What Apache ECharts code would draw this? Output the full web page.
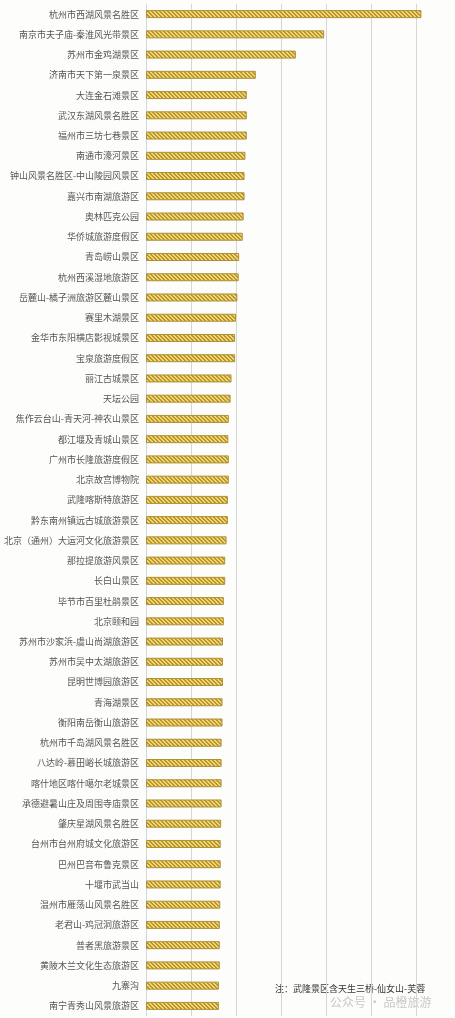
<!DOCTYPE html>
<html>
<head>
<meta charset="utf-8">
<script src="https://cdn.jsdelivr.net/npm/echarts@6/dist/echarts.min.js"></script>
<style>
html,body{margin:0;padding:0;background:#fdfdfc;overflow:hidden;}
#chart{width:455px;height:1018px;}
</style>
</head>
<body>
<div id="chart"></div>
<script>
const categories = [
  "杭州市西湖风景名胜区","南京市夫子庙-秦淮风光带景区","苏州市金鸡湖景区","济南市天下第一泉景区","大连金石滩景区",
  "武汉东湖风景名胜区","福州市三坊七巷景区","南通市濠河景区","钟山风景名胜区-中山陵园风景区","嘉兴市南湖旅游区",
  "奥林匹克公园","华侨城旅游度假区","青岛崂山景区","杭州西溪湿地旅游区","岳麓山-橘子洲旅游区麓山景区",
  "赛里木湖景区","金华市东阳横店影视城景区","宝泉旅游度假区","丽江古城景区","天坛公园",
  "焦作云台山-青天河-神农山景区","都江堰及青城山景区","广州市长隆旅游度假区","北京故宫博物院","武隆喀斯特旅游区",
  "黔东南州镇远古城旅游景区","北京（通州）大运河文化旅游景区","那拉提旅游风景区","长白山景区","毕节市百里杜鹃景区",
  "北京颐和园","苏州市沙家浜-虞山尚湖旅游区","苏州市吴中太湖旅游区","昆明世博园旅游区","青海湖景区",
  "衡阳南岳衡山旅游区","杭州市千岛湖风景名胜区","八达岭-慕田峪长城旅游区","喀什地区喀什噶尔老城景区","承德避暑山庄及周围寺庙景区",
  "肇庆星湖风景名胜区","台州市台州府城文化旅游区","巴州巴音布鲁克景区","十堰市武当山","温州市雁荡山风景名胜区",
  "老君山-鸡冠洞旅游区","普者黑旅游景区","黄陂木兰文化生态旅游区","九寨沟","南宁青秀山风景旅游区"
];
const values = [
  61.2, 39.6, 33.3, 24.4, 22.4,
  22.4, 22.4, 22.1, 21.9, 21.9,
  21.7, 21.5, 20.7, 20.6, 20.3,
  20.0, 19.8, 19.8, 19.0, 18.8,
  18.4, 18.3, 18.4, 18.4, 18.2,
  18.2, 17.9, 17.6, 17.6, 17.3,
  17.3, 17.1, 17.1, 17.1, 17.0,
  17.0, 16.8, 16.8, 16.8, 16.8,
  16.7, 16.6, 16.6, 16.6, 16.5,
  16.4, 16.4, 16.4, 16.2, 16.2
];
const noteText = "注：武隆景区含天生三桥-仙女山-芙蓉";
const watermarkText = "公众号 · 品橙旅游";

// hatch pattern tile
const tile = document.createElement('canvas');
tile.width = 4; tile.height = 4;
const tctx = tile.getContext('2d');
tctx.fillStyle = '#f6d665';
tctx.fillRect(0,0,4,4);
tctx.fillStyle = '#b5963a';
for (let y = 0; y < 4; y++) {
  for (let x = 0; x < 4; x++) {
    const d = ((x - y) % 4 + 4) % 4;
    if (d === 0 || d === 1) tctx.fillRect(x, y, 1, 1);
  }
}

const chart = echarts.init(document.getElementById('chart'), null, {renderer:'canvas'});
chart.setOption({
  backgroundColor: '#fdfdfc',
  animation: false,
  grid: {left: 146, width: 315, top: 4, bottom: 2, containLabel: false, outerBoundsMode: 'none'},
  xAxis: {
    type: 'value', min: 0, max: 70, interval: 10,
    axisLabel: {show: false}, axisLine: {show: false}, axisTick: {show: false},
    splitLine: {show: true, lineStyle: {color: '#d6d6d6', width: 1}}
  },
  yAxis: {
    type: 'category', data: categories, inverse: true,
    axisLine: {show: true, lineStyle: {color: '#d6d6d6'}},
    axisTick: {show: false},
    axisLabel: {
      interval: 0, margin: 7, fontSize: 9, color: '#555',
      fontFamily: '"Noto Sans CJK SC", sans-serif'
    }
  },
  series: [{
    type: 'bar',
    data: values,
    barWidth: 8,
    itemStyle: {
      color: {image: tile, repeat: 'repeat'},
      borderColor: '#ac903a', borderWidth: 1
    }
  }],
  graphic: [
    {type: 'text', left: 275, top: 984, style: {text: noteText, fontSize: 9, fill: '#333', fontFamily: '"Noto Sans CJK SC", sans-serif'}},
    {type: 'text', left: 330, top: 996, style: {text: watermarkText, fontSize: 12, fill: '#c8c8c8', fontFamily: '"Noto Sans CJK SC", sans-serif'}}
  ]
});
</script>
</body>
</html>
